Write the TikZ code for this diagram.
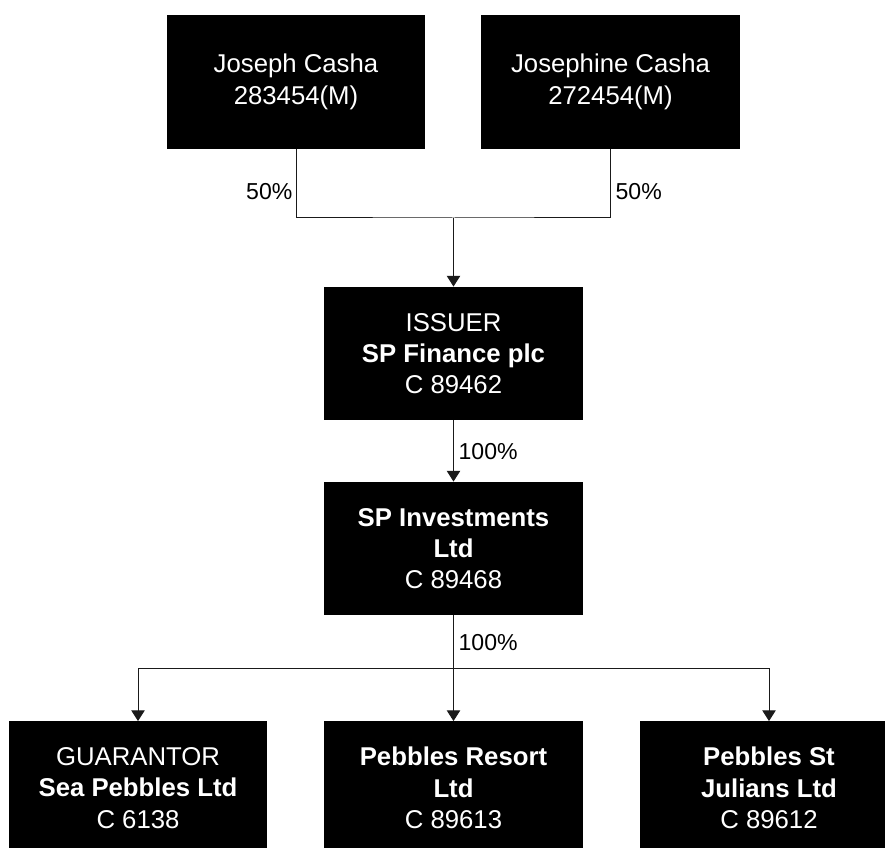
\documentclass[tikz,border=0pt]{standalone}
\usepackage{fontspec}
\setmainfont{Liberation Sans}
\usepackage{xcolor}
\usepackage{tikz}
\usetikzlibrary{arrows.meta, positioning, calc}
\definecolor{sharebox}{HTML}{000000}
\definecolor{shareline}{HTML}{1A1A1A}

\tikzset{
    entity/.style={fill=sharebox, text=white, font=\fontsize{19.3}{23.5}\selectfont, minimum width=194pt, minimum height=100pt, align=center, inner sep=0pt},
    pct/.style={font=\fontsize{17.3}{20}\selectfont, inner sep=1pt},
    owns/.style={draw=shareline, line width=0.75pt},
    ownsarrow/.style={owns, -{Triangle[width=10pt,length=8pt]}}
}

\begin{document}
\begin{tikzpicture}[x=0.75pt, y=-0.75pt]
    \useasboundingbox (0,0) rectangle (885,848);
    \clip (0,0) rectangle (885,848);

    % Shareholders
    \node[entity] (joseph) at (296,82) {Joseph Casha\\283454(M)};
    \node[entity] (josephine) at (610.5,82) {Josephine Casha\\272454(M)};

    % Issuer and holding company
    \node[entity] (issuer) at (453.5,353.5) {ISSUER\\\textbf{SP Finance plc}\\C 89462};
    \node[entity] (spinv) at (453.5,548.5) {\textbf{SP Investments}\\\textbf{Ltd}\\C 89468};

    % Subsidiaries
    \node[entity] (guarantor) at (138,788) {GUARANTOR\\\textbf{Sea Pebbles Ltd}\\C 6138};
    \node[entity] (resort) at (453.5,788) {\textbf{Pebbles Resort}\\\textbf{Ltd}\\C 89613};
    \node[entity] (julians) at (769,788) {\textbf{Pebbles St}\\\textbf{Julians Ltd}\\C 89612};

    % Connectors
    \coordinate (topsplit) at (453.5,218);
    \coordinate (subsplit) at (453.5,668);
    \draw[owns] (joseph.south) |- (topsplit) -| (josephine.south);
    \draw[ownsarrow] (topsplit) -- (issuer.north);
    \draw[ownsarrow] (issuer.south) -- (spinv.north);
    \draw[owns] (spinv.south) -- (subsplit);
    \draw[ownsarrow] (subsplit) -| (guarantor.north);
    \draw[ownsarrow] (subsplit) -- (resort.north);
    \draw[ownsarrow] (subsplit) -| (julians.north);

    % Percentages
    \node[pct, anchor=east] (pjoseph) at (294,192) {50\%};
    \node[pct, anchor=west] (pjosephine) at (614,192) {50\%};
    \node[pct, anchor=west] (pissuer) at (457,452) {100\%};
    \node[pct, anchor=west] (pspinv) at (457,643) {100\%};
\end{tikzpicture}
\end{document}
